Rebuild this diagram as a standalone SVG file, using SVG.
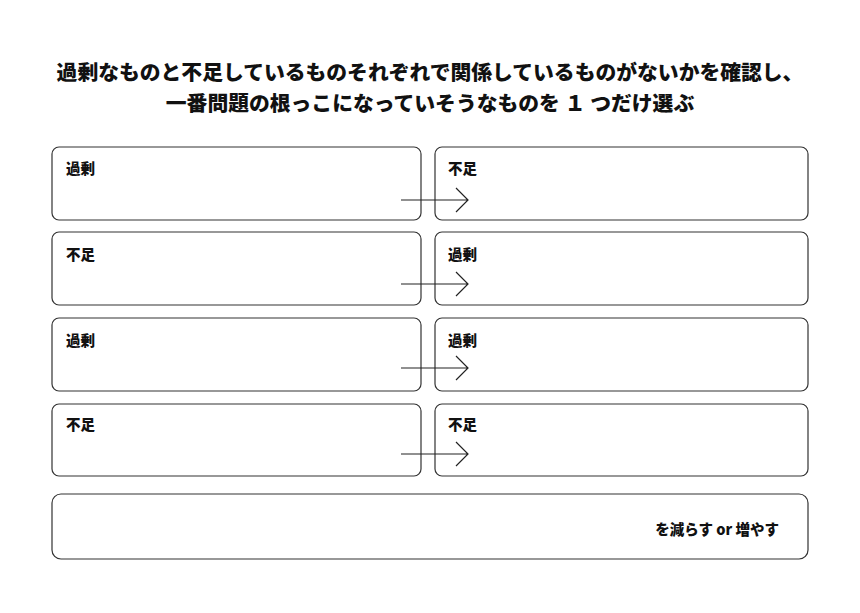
<svg xmlns="http://www.w3.org/2000/svg" width="860" height="613" viewBox="0 0 860 613">
<style>
.box{fill:#fff;stroke:#333;stroke-width:1.2}
.lbl{font-family:"Noto Sans CJK JP","Noto Sans",sans-serif;font-weight:900;font-size:14.5px;fill:#111}
.title{font-family:"Noto Sans CJK JP","Noto Sans",sans-serif;font-weight:900;font-size:20.8px;fill:#111;text-anchor:middle}
.conn{stroke:#222;stroke-width:1.2;fill:none}
</style>
<rect width="860" height="613" fill="#fff"/>
<g id="title">
<text class="title" x="430" y="80">過剰なものと不足しているものそれぞれで関係しているものがないかを確認し、</text>
<text class="title" x="430" y="111" xml:space="preserve">一番問題の根っこになっていそうなものを １ つだけ選ぶ</text>
</g>
<g id="n1l"><rect class="box" x="52" y="147" width="369" height="73" rx="7"/><text class="lbl" x="66" y="174">過剰</text></g>
<g id="n1r"><rect class="box" x="435" y="147" width="373" height="73" rx="7"/><text class="lbl" x="448" y="174">不足</text></g>
<g id="n2l"><rect class="box" x="52" y="232" width="369" height="73" rx="7"/><text class="lbl" x="66" y="260">不足</text></g>
<g id="n2r"><rect class="box" x="435" y="232" width="373" height="73" rx="7"/><text class="lbl" x="448" y="260">過剰</text></g>
<g id="n3l"><rect class="box" x="52" y="318" width="369" height="73" rx="7"/><text class="lbl" x="66" y="346">過剰</text></g>
<g id="n3r"><rect class="box" x="435" y="318" width="373" height="73" rx="7"/><text class="lbl" x="448" y="346">過剰</text></g>
<g id="n4l"><rect class="box" x="52" y="404" width="369" height="72" rx="7"/><text class="lbl" x="66" y="430">不足</text></g>
<g id="n4r"><rect class="box" x="435" y="404" width="373" height="72" rx="7"/><text class="lbl" x="448" y="430">不足</text></g>
<g id="n5"><rect class="box" x="52" y="494" width="756" height="65" rx="9"/><text class="lbl" x="779" y="535" text-anchor="end">を減らす or 増やす</text></g>
<g id="connectors">
<path class="conn" d="M401 200H468M456 188L468 200L456 212"/>
<path class="conn" d="M401 284H468M456 272L468 284L456 296"/>
<path class="conn" d="M401 368H468M456 356L468 368L456 380"/>
<path class="conn" d="M401 454H468M456 442L468 454L456 466"/>
</g>
</svg>
